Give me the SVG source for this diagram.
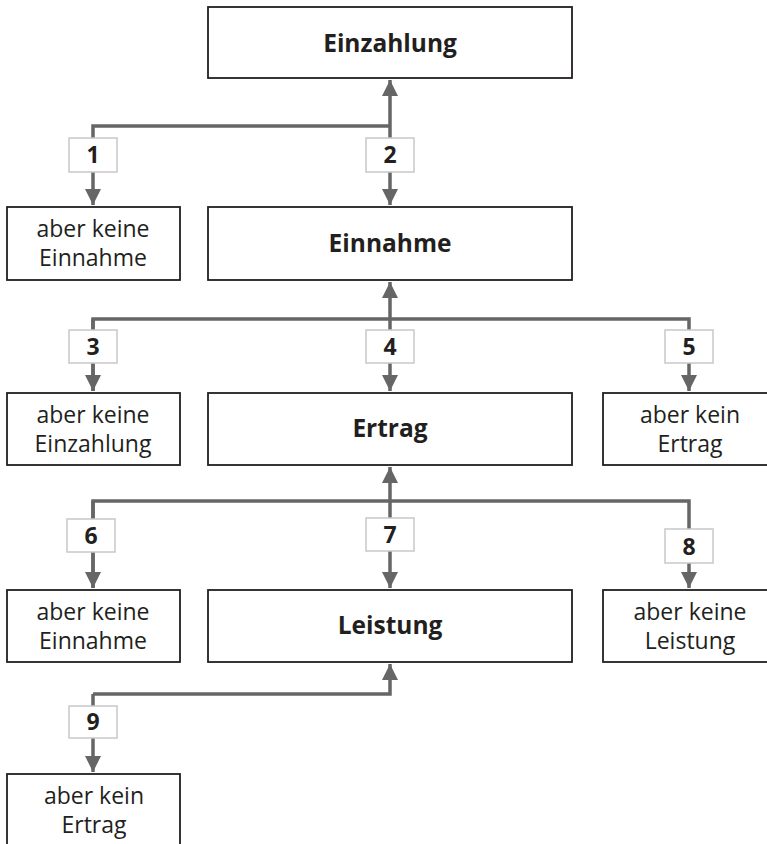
<svg xmlns="http://www.w3.org/2000/svg" width="767" height="844" viewBox="0 0 767 844">
<style>
.box{fill:#fff;stroke:#231f20;stroke-width:1.8}
.lbl{fill:#fff;stroke:#c8c8c8;stroke-width:1.5}
.t{font-family:"Open Sans","Noto Sans","Liberation Sans",sans-serif;font-size:23px;fill:#231f20;text-anchor:middle}
.b{font-weight:bold;font-size:24.5px}
.n{font-family:"Open Sans","Noto Sans","Liberation Sans",sans-serif;font-size:23px;font-weight:bold;fill:#231f20;text-anchor:middle}
.c{fill:none;stroke:#666;stroke-width:3.5}
</style>
<defs>
<marker id="ah" viewBox="0 0 16 17" refX="16" refY="8" markerWidth="16" markerHeight="17" markerUnits="userSpaceOnUse" orient="auto">
<path d="M0,0 L16,8 L0,16 Z" fill="#666"/>
</marker>
</defs>
<g id="connectors">
<path class="c" d="M390,126 V80" marker-end="url(#ah)"/>
<path class="c" d="M390,126 H93 V205" marker-end="url(#ah)"/>
<path class="c" d="M390,126 V205" marker-end="url(#ah)"/>
<path class="c" d="M390,319 V282" marker-end="url(#ah)"/>
<path class="c" d="M93,391 V319 H689 V391" marker-end="url(#ah)"/>
<path class="c" d="M93,319 V391" marker-end="url(#ah)"/>
<path class="c" d="M390,319 V391" marker-end="url(#ah)"/>
<path class="c" d="M390,501 V467" marker-end="url(#ah)"/>
<path class="c" d="M93,588 V501 H689 V588" marker-end="url(#ah)"/>
<path class="c" d="M93,501 V588" marker-end="url(#ah)"/>
<path class="c" d="M390,501 V588" marker-end="url(#ah)"/>
<path class="c" d="M93,694 H390 V664" marker-end="url(#ah)"/>
<path class="c" d="M93,694 V772" marker-end="url(#ah)"/>
</g>
<g id="label1"><rect class="lbl" x="69" y="138" width="48" height="34"/><text class="n" x="93" y="163">1</text></g>
<g id="label2"><rect class="lbl" x="366" y="138" width="48" height="34"/><text class="n" x="390" y="163">2</text></g>
<g id="label3"><rect class="lbl" x="69" y="330" width="48" height="33"/><text class="n" x="93" y="355">3</text></g>
<g id="label4"><rect class="lbl" x="366" y="330" width="48" height="33"/><text class="n" x="390" y="355">4</text></g>
<g id="label5"><rect class="lbl" x="665" y="330" width="48" height="33"/><text class="n" x="689" y="355">5</text></g>
<g id="label6"><rect class="lbl" x="67" y="519" width="48" height="33"/><text class="n" x="91" y="544">6</text></g>
<g id="label7"><rect class="lbl" x="366" y="518" width="48" height="33"/><text class="n" x="390" y="543">7</text></g>
<g id="label8"><rect class="lbl" x="665" y="529" width="48" height="34"/><text class="n" x="689" y="555">8</text></g>
<g id="label9"><rect class="lbl" x="69" y="706" width="48" height="32"/><text class="n" x="93" y="730">9</text></g>
<g id="einzahlung"><rect class="box" x="208" y="7" width="364" height="71"/><text class="t b" x="390" y="52">Einzahlung</text></g>
<g id="einnahme"><rect class="box" x="208" y="207" width="364" height="73"/><text class="t b" x="390" y="252">Einnahme</text></g>
<g id="keineEinnahme1"><rect class="box" x="7" y="207" width="173" height="73"/><text class="t" x="93" y="237">aber keine</text><text class="t" x="93" y="266">Einnahme</text></g>
<g id="ertrag"><rect class="box" x="208" y="393" width="364" height="72"/><text class="t b" x="390" y="437">Ertrag</text></g>
<g id="keineEinzahlung"><rect class="box" x="7" y="393" width="173" height="72"/><text class="t" x="93" y="423">aber keine</text><text class="t" x="93" y="452">Einzahlung</text></g>
<g id="keinErtrag1"><rect class="box" x="603" y="393" width="172" height="72"/><text class="t" x="690" y="423">aber kein</text><text class="t" x="690" y="452">Ertrag</text></g>
<g id="leistung"><rect class="box" x="208" y="590" width="364" height="72"/><text class="t b" x="390" y="634">Leistung</text></g>
<g id="keineEinnahme2"><rect class="box" x="7" y="590" width="173" height="72"/><text class="t" x="93" y="620">aber keine</text><text class="t" x="93" y="649">Einnahme</text></g>
<g id="keineLeistung"><rect class="box" x="603" y="590" width="172" height="72"/><text class="t" x="690" y="620">aber keine</text><text class="t" x="690" y="649">Leistung</text></g>
<g id="keinErtrag2"><rect class="box" x="7" y="774" width="173" height="80"/><text class="t" x="94" y="804">aber kein</text><text class="t" x="94" y="833">Ertrag</text></g>
</svg>
